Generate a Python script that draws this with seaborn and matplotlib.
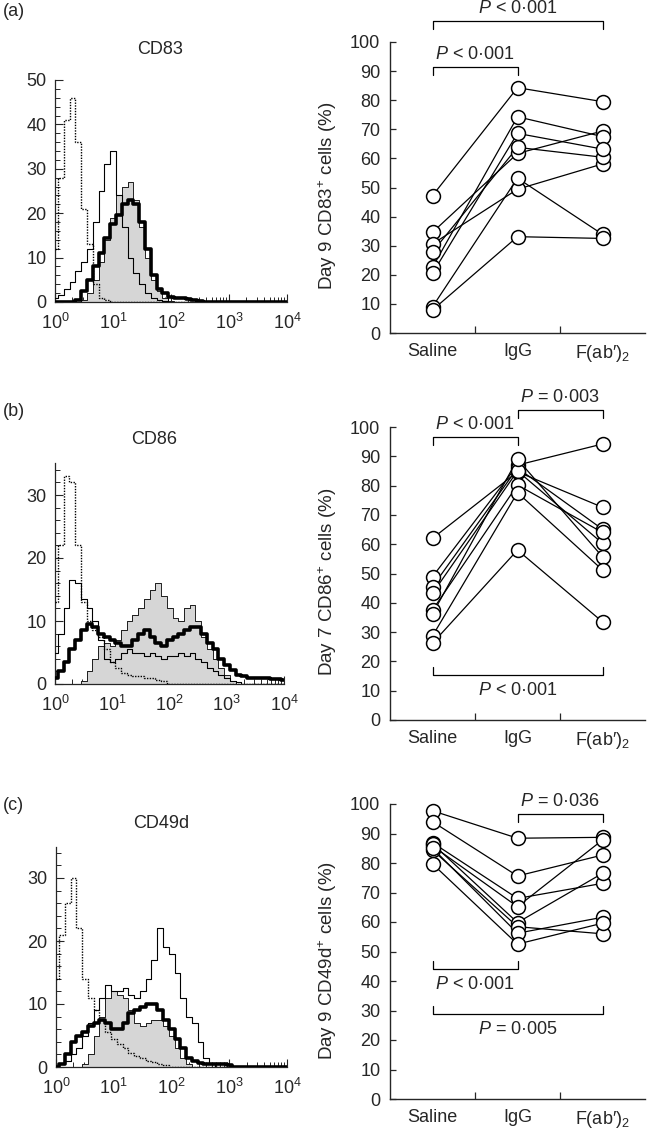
import numpy as np
import pandas as pd
import seaborn as sns
import matplotlib.pyplot as plt
from matplotlib.ticker import MultipleLocator, FixedLocator, LogLocator, NullFormatter

sns.set_style("ticks")
plt.rcParams["font.family"] = ["Liberation Sans", "DejaVu Sans"]
plt.rcParams["mathtext.fontset"] = "custom"
plt.rcParams["mathtext.rm"] = "Liberation Sans"
plt.rcParams["mathtext.it"] = "Liberation Sans:italic"
plt.rcParams["mathtext.bf"] = "Liberation Sans:bold"
FS = 13
plt.rcParams["font.size"] = FS

# ---- flow cytometry histograms (counts per channel, channel = 10**(0.1*i)) ----
log_channel = np.linspace(0, 4, 41)

a_dotted = [12, 28, 41, 46, 36, 21, 13, 4, 1, 0.5]
a_thin = [1, 1.5, 3, 4.5, 7, 9, 12, 18, 25, 31, 34, 24, 17, 10, 6.5, 4, 2, 1, 0.5, 0.3]
a_grey = [0, 0, 0, 0, 0, 0.5, 2, 5, 9, 14, 19, 24, 26, 27, 23, 17, 10, 5, 2.5, 1, 0.3]
a_thick = [0, 0, 0, 0, 0.5, 2.5, 5, 8, 11, 14.5, 17.5, 19.5, 22, 23, 22, 18, 12, 6, 3, 2,
           1.2, 1, 0.8, 0.6, 0.5, 0.2]

b_dotted = [13, 22, 33, 32, 22, 13, 10, 8.5, 7.5, 5.5, 3.5, 2.5, 1.8, 1.5, 1.3, 1.2, 1, 1, 0.7, 0.4]
b_thin = [5, 8, 12, 16.5, 16, 13.5, 12, 10, 7, 4, 3.5, 4, 5, 5.5, 5, 5, 4.5, 5, 4.5, 4,
          4.5, 4.5, 5, 4.5, 5, 4, 3.5, 2.5, 2, 1.5, 1, 0.5, 0.3]
b_grey = [0, 0, 0, 0, 0, 0.5, 2, 4, 6, 6.5, 6, 7, 8.5, 10, 11, 12, 13.5, 15, 16, 14,
          12, 10.5, 10, 12, 12.5, 10, 7.5, 5.5, 4, 2.5, 1.5, 0.5]
b_thick = [1, 2, 3.5, 5.5, 7, 8.5, 9.5, 9, 8, 7.5, 7, 6.5, 6, 6, 7, 8, 8.5, 7.5, 6.5, 6,
           7, 7.5, 8, 8.5, 9, 9, 8, 6.5, 5.5, 4, 3, 2.3, 1.5, 1.2, 1, 1, 1, 1, 0.8, 0.8, 0.7]

c_dotted = [14, 21, 26, 30, 22, 14, 11, 9, 7.5, 5.5, 4.5, 3.7, 3, 2.3, 1.8, 1.5, 1, 0.8, 0.5, 0.3]
c_thin = [0, 0.5, 1, 2, 3, 5, 7, 9, 11, 13, 12, 12, 12.5, 11.5, 11, 12, 14, 17, 22, 19,
          18, 15, 11, 8, 7, 4, 1.5, 0.5]
c_grey = [0, 0, 0, 0, 0, 0.5, 2, 5, 8, 11, 12, 11.5, 11, 9, 7, 6.5, 7, 7.5, 7.5, 6.5,
          5, 3, 1.5, 0.5]
c_thick = [0, 0.5, 2, 4, 5, 5.5, 6.5, 7, 7.5, 7, 6, 6, 7, 8.5, 9, 9.5, 10, 10, 9, 7.5,
           6, 4.5, 3, 1.5, 1, 0.7, 0.5, 0.5, 0.5, 0.5, 0.3]

# ---- paired donor data ----
conditions = ["Saline", "IgG", "F(ab\u2032)$_2$"]

cd83_saline = [47.2, 34.6, 30.6, 27.9, 22.6, 20.5, 9.0, 7.9]
cd83_igg = [84.3, 61.7, 49.4, 63.8, 74.3, 68.6, 53.2, 33.1]
cd83_fab = [79.5, 69.4, 58.1, 60.4, 67.5, 63.2, 33.9, 32.5]

cd86_saline = [62.0, 48.9, 45.5, 43.2, 37.5, 36.2, 28.7, 26.2]
cd86_igg = [84.7, 87.0, 86.0, 85.0, 80.2, 89.0, 77.6, 58.0]
cd86_fab = [72.6, 94.2, 65.1, 60.3, 64.0, 55.7, 51.2, 33.5]

cd49d_saline = [97.7, 94.0, 86.9, 85.8, 86.5, 84.4, 85.0, 79.7]
cd49d_igg = [88.4, 75.6, 68.0, 65.2, 59.8, 58.4, 56.2, 52.5]
cd49d_fab = [88.7, 82.7, 73.1, 87.8, 76.5, 56.0, 61.6, 59.6]

# brackets: (from, to, level, text, text side)
cd83_brackets = [(0, 2, 107.3, "$P$ < 0\u00b7001", "above"),
                 (0, 1, 91.5, "$P$ < 0\u00b7001", "above")]
cd86_brackets = [(0, 1, 96.7, "$P$ < 0\u00b7001", "above"),
                 (1, 2, 105.8, "$P$ = 0\u00b7003", "above"),
                 (0, 2, 15.4, "$P$ < 0\u00b7001", "below")]
cd49d_brackets = [(1, 2, 96.6, "$P$ = 0\u00b7036", "above"),
                  (0, 1, 44.0, "$P$ < 0\u00b7001", "below"),
                  (0, 2, 28.8, "$P$ = 0\u00b7005", "below")]

W, H = 647, 1128
fig = plt.figure(figsize=(W / 100, H / 100), dpi=100)


def px_axes(left, top, right, bottom):
    return fig.add_axes([left / W, 1 - bottom / H, (right - left) / W, (bottom - top) / H])


def pad(vals):
    return np.array(list(vals) + [0] * (len(log_channel) - len(vals)), dtype=float)


def histogram_panel(ax, dotted, thin, grey, thick, ymax, title, tag, title_xy, tag_y):
    x = 10 ** log_channel
    ax.fill_between(x, pad(grey), step="mid", color="#d6d6d6", lw=0, zorder=1)
    sns.lineplot(x=x, y=pad(grey), ax=ax, color="black", lw=0.6, drawstyle="steps-mid",
                 estimator=None, errorbar=None, zorder=2)
    sns.lineplot(x=x, y=pad(dotted), ax=ax, color="black", lw=1.0, linestyle=(0, (1, 1)),
                 drawstyle="steps-mid", estimator=None, errorbar=None, zorder=3)
    sns.lineplot(x=x, y=pad(thin), ax=ax, color="black", lw=0.8, drawstyle="steps-mid",
                 estimator=None, errorbar=None, zorder=4)
    sns.lineplot(x=x, y=pad(thick), ax=ax, color="black", lw=2.6, drawstyle="steps-mid",
                 estimator=None, errorbar=None, zorder=5)
    ax.set_xscale("log")
    ax.set_xlim(1, 1e4)
    ax.set_ylim(0, ymax)
    ax.xaxis.set_major_locator(LogLocator(base=10, numticks=10))
    ax.xaxis.set_minor_locator(LogLocator(base=10, subs=np.arange(2, 10), numticks=50))
    ax.xaxis.set_minor_formatter(NullFormatter())
    ax.yaxis.set_major_locator(MultipleLocator(10))
    ax.yaxis.set_minor_locator(MultipleLocator(2))
    ax.tick_params(which="major", direction="in", length=6, width=0.8, labelsize=FS)
    ax.tick_params(axis="x", which="major", pad=8)
    ax.tick_params(axis="y", which="major", pad=6)
    ax.tick_params(which="minor", direction="in", length=3.5, width=0.7)
    sns.despine(ax=ax)
    for s in ["left", "bottom"]:
        ax.spines[s].set_linewidth(0.9)
    ax.set_xlabel("")
    ax.set_ylabel("")
    fig.text(title_xy[0] / W, 1 - title_xy[1] / H, title, ha="center", va="center", fontsize=FS)
    fig.text(3 / W, 1 - tag_y / H, tag, ha="left", va="top", fontsize=FS)


def paired_panel(ax, saline, igg, fab, brackets, ylabel):
    n = len(saline)
    df = pd.DataFrame({
        "donor": list(range(n)) * 3,
        "condition": [conditions[0]] * n + [conditions[1]] * n + [conditions[2]] * n,
        "value": list(saline) + list(igg) + list(fab),
    })
    df["pos"] = df["condition"].map({c: i for i, c in enumerate(conditions)})
    sns.lineplot(data=df, x="pos", y="value", units="donor", estimator=None,
                 color="black", lw=0.9, sort=False, ax=ax, zorder=2)
    sns.scatterplot(data=df, x="pos", y="value", s=100, color="white", edgecolor="black",
                    linewidth=1.1, ax=ax, zorder=3, clip_on=False)
    ax.set_xlim(-0.5, 2.5)
    ax.set_ylim(0, 100)
    ax.set_xticks(range(len(conditions)))
    ax.set_xticklabels(conditions)
    ax.xaxis.set_minor_locator(FixedLocator([0.5, 1.5]))
    ax.yaxis.set_major_locator(MultipleLocator(10))
    ax.tick_params(axis="x", which="major", length=0, pad=7, labelsize=FS)
    ax.tick_params(axis="x", which="minor", direction="in", length=5, width=0.9)
    ax.tick_params(axis="y", which="major", direction="in", length=4, width=0.9, pad=7,
                   labelsize=FS)
    sns.despine(ax=ax)
    for s in ["left", "bottom"]:
        ax.spines[s].set_linewidth(1.0)
    ax.set_xlabel("")
    ax.set_ylabel(ylabel, fontsize=13.5)
    ax.yaxis.set_label_coords(-0.2, 0.47)
    leg = 2.7
    for i, j, level, text, side in brackets:
        if side == "above":
            ax.plot([i, i, j, j], [level - leg, level, level, level - leg], color="black",
                    lw=0.9, clip_on=False)
            ax.text((i + j) / 2, level + 1.2, text, ha="center", va="bottom", fontsize=FS)
        else:
            ax.plot([i, i, j, j], [level + leg, level, level, level + leg], color="black",
                    lw=0.9, clip_on=False)
            ax.text((i + j) / 2, level - 2.3, text, ha="center", va="top", fontsize=FS)


ax_a = px_axes(55, 80, 287, 302)
histogram_panel(ax_a, a_dotted, a_thin, a_grey, a_thick, 50, "CD83", "(a)", (160, 49), 3)
ax_b = px_axes(55, 463.5, 284, 684)
histogram_panel(ax_b, b_dotted, b_thin, b_grey, b_thick, 35, "CD86", "(b)", (154, 440), 403)
ax_c = px_axes(56, 846.5, 287, 1067)
histogram_panel(ax_c, c_dotted, c_thin, c_grey, c_thick, 35, "CD49d", "(c)", (161, 824), 797)

ax_d = px_axes(390, 42, 645, 333)
paired_panel(ax_d, cd83_saline, cd83_igg, cd83_fab, cd83_brackets, "Day 9 CD83$^{+}$ cells (%)")
ax_e = px_axes(390, 427, 645, 720)
paired_panel(ax_e, cd86_saline, cd86_igg, cd86_fab, cd86_brackets, "Day 7 CD86$^{+}$ cells (%)")
ax_f = px_axes(390, 804, 645, 1099)
paired_panel(ax_f, cd49d_saline, cd49d_igg, cd49d_fab, cd49d_brackets, "Day 9 CD49d$^{+}$ cells (%)")

fig.savefig("out.png", dpi=100)
